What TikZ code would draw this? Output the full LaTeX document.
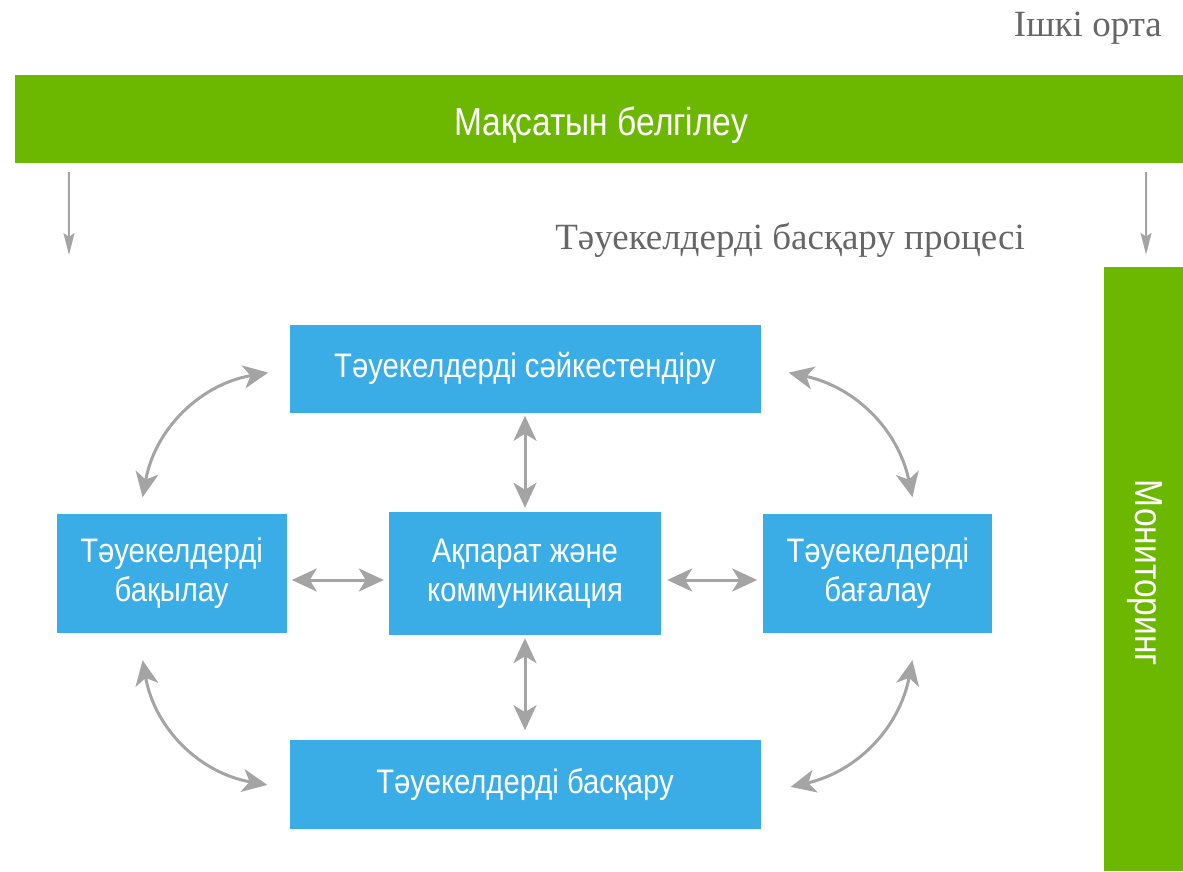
\documentclass[tikz,border=0pt]{standalone}
\usepackage{fontspec}
\setmainfont{Liberation Serif}
\newfontfamily\boxfont[FakeStretch=0.86]{Liberation Sans}
\usepackage{tikz}
\usetikzlibrary{positioning,arrows.meta}

\definecolor{barGreen}{HTML}{6CB800}
\definecolor{boxBlue}{HTML}{3AADE6}
\definecolor{arrowGray}{HTML}{A4A4A4}
\definecolor{textGray}{HTML}{666666}

\tikzset{
  greenbar/.style={fill=barGreen, text=white, inner sep=0pt, font=\boxfont\fontsize{39}{47}\selectfont},
  bluebox/.style={fill=boxBlue, text=white, inner sep=0pt, align=center, font=\boxfont\fontsize{34}{39}\selectfont},
  graytext/.style={text=textGray, inner sep=0pt, font=\fontsize{37}{44}\selectfont},
  dblarrow/.style={{Stealth[length=25pt,width=23pt,inset=7pt]}-{Stealth[length=25pt,width=23pt,inset=7pt]}, line width=3pt, draw=arrowGray},
  downarrow/.style={-{Stealth[length=22pt,width=11pt,inset=4pt]}, line width=2pt, draw=arrowGray},
}

\begin{document}
\begin{tikzpicture}[x=1pt,y=1pt]
\useasboundingbox (0,0) rectangle (1183,871);

% green bars
\node[greenbar, minimum width=1168pt, minimum height=88pt] (goal) at (599,752) {};
\node[greenbar] (goaltext) at (601,746) {Мақсатын белгілеу};
\node[greenbar, minimum width=79pt, minimum height=604pt] (monitor) at (1143.5,302) {};
\node[greenbar, rotate=-90] (montext) at (1145,298) {Мониторинг};

% gray labels
\node[graytext, anchor=base east] (inner) at (1162,834) {Ішкі орта};
\node[graytext, anchor=base east] (process) at (1025,621) {Тәуекелдерді басқару процесі};

% blue boxes
\node[bluebox, minimum width=272pt, minimum height=123pt] (info) at (525,297.5) {Ақпарат және\\коммуникация};
\node[bluebox, minimum width=471pt, minimum height=88pt] (ident) [above=99pt of info] {Тәуекелдерді сәйкестендіру};
\node[bluebox, minimum width=471pt, minimum height=89pt] (manage) [below=105pt of info] {Тәуекелдерді басқару};
\node[bluebox, minimum width=230pt, minimum height=119pt] (ctrl) [left=102pt of info] {Тәуекелдерді\\бақылау};
\node[bluebox, minimum width=229pt, minimum height=119pt] (assess) [right=102pt of info] {Тәуекелдерді\\бағалау};

% down arrows
\coordinate (leftend) at (69,616);
\draw[downarrow, shorten <=9pt] ([xshift=54pt]goal.south west) -- (leftend);
\draw[downarrow, shorten <=9pt, shorten >=12pt] ([xshift=-37pt]goal.south east) -- ([xshift=2.5pt]monitor.north);

% straight arrows
\draw[dblarrow, shorten <=3pt, shorten >=4pt] (ident.south) -- (info.north);
\draw[dblarrow, shorten <=3pt, shorten >=10pt] (info.south) -- (manage.north);
\draw[dblarrow, shorten <=5pt, shorten >=5pt] ([yshift=-6.5pt]ctrl.east) -- ([yshift=-6.5pt]info.west);
\draw[dblarrow, shorten <=6pt, shorten >=6pt] ([yshift=-6.5pt]info.east) -- ([yshift=-6.5pt]assess.west);

% curved arrows
\draw[dblarrow] ([shift={(-29,16.5)}]ctrl.north) to[bend left=35] ([shift={(-21,-4)}]ident.west);
\draw[dblarrow] ([shift={(28,-4)}]ident.east) to[bend left=33] ([shift={(34.5,16.5)}]assess.north);
\draw[dblarrow] ([shift={(-29,-27)}]ctrl.south) to[bend right=35] ([shift={(-22,0)}]manage.west);
\draw[dblarrow] ([shift={(30,-2)}]manage.east) to[bend right=33] ([shift={(34.5,-27)}]assess.south);
\end{tikzpicture}
\end{document}
